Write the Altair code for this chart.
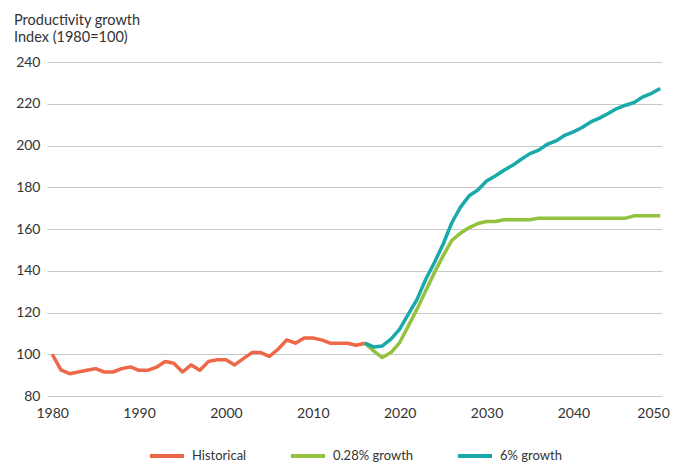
import altair as alt
import pandas as pd

hist_years = list(range(1980, 2017))
hist_values = [100.0, 92.5, 90.7, 91.5, 92.3, 93.1, 91.5, 91.5, 93.1, 93.9,
               92.3, 92.3, 93.8, 96.5, 95.7, 91.5, 94.9, 92.3, 96.6, 97.4,
               97.4, 94.9, 97.9, 100.8, 100.8, 99.0, 102.4, 106.9, 105.3, 107.8,
               107.8, 106.9, 105.3, 105.3, 105.3, 104.3, 105.3]

proj_years = list(range(2016, 2051))
low_values = [105.3, 101.6, 98.4, 100.8, 105.6, 113.6, 121.6, 130.4, 139.1, 147.1,
              154.5, 158.0, 160.7, 162.6, 163.6, 163.6, 164.4, 164.4, 164.4, 164.4,
              165.2, 165.2, 165.2, 165.2, 165.2, 165.2, 165.2, 165.2, 165.2, 165.2,
              165.2, 166.3, 166.3, 166.3, 166.3]
high_values = [105.3, 103.5, 104.0, 107.2, 112.0, 119.2, 126.3, 135.9, 143.9, 152.7,
               163.0, 170.5, 175.9, 178.7, 183.0, 185.4, 188.1, 190.5, 193.4, 196.1,
               197.8, 200.6, 202.2, 204.9, 206.5, 208.6, 211.3, 213.1, 215.3, 217.7,
               219.3, 220.6, 223.3, 225.0, 227.3]

series_names = ["Historical", "0.28% growth", "6% growth"]
series_colors = ["#EE6848", "#92C23E", "#18AAAA"]
x_ticks = [1980, 1990, 2000, 2010, 2020, 2030, 2040, 2050]
y_ticks = [80, 100, 120, 140, 160, 180, 200, 220, 240]

rows = []
for y, v in zip(hist_years, hist_values):
    rows.append({"year": y, "value": v, "series": series_names[0], "order": 2})
for y, v in zip(proj_years, low_values):
    rows.append({"year": y, "value": v, "series": series_names[1], "order": 0})
for y, v in zip(proj_years, high_values):
    rows.append({"year": y, "value": v, "series": series_names[2], "order": 1})
df = pd.DataFrame(rows)

FONT = "Lato"

chart = alt.Chart(df).mark_line(strokeWidth=3.5, strokeJoin="round").encode(
    x=alt.X("year:Q",
            scale=alt.Scale(domain=[1979.4, 2050.2], nice=False, zero=False),
            axis=alt.Axis(values=x_ticks, format="d", title=None, grid=False,
                          domain=False, ticks=False, labelPadding=10,
                          labelFlush=3, labelFlushOffset=9,
                          labelFontSize=14, labelColor="#333333", labelFont=FONT)),
    y=alt.Y("value:Q",
            scale=alt.Scale(domain=[80, 240], nice=False, zero=False),
            axis=alt.Axis(values=y_ticks, title=None, grid=True, gridColor="#C8C8C8",
                          gridWidth=1, domain=False, ticks=False, labelPadding=7,
                          labelFontSize=14, labelColor="#333333", labelFont=FONT)),
    color=alt.Color("series:N",
                    scale=alt.Scale(domain=series_names, range=series_colors),
                    legend=alt.Legend(title=None, orient="none", direction="horizontal",
                                      legendX=101, legendY=375, symbolType="stroke",
                                      symbolSize=1156, symbolStrokeWidth=4,
                                      labelFontSize=13, labelColor="#333333",
                                      labelFont=FONT, labelOffset=6,
                                      columnPadding=36, padding=0)),
    order=alt.Order("order:Q"),
    detail="series:N",
).properties(
    width=615,
    height=334,
    padding={"left": 39, "top": 54, "right": 10, "bottom": 80},
    autosize=alt.AutoSizeParams(type="none"),
    title=alt.TitleParams(text=["Productivity growth", "Index (1980=100)"],
                          anchor="start", frame="group", dx=-33, offset=10,
                          fontSize=14.5, fontWeight="normal", font=FONT,
                          color="#333333", lineHeight=17),
).configure_view(stroke=None)

chart.save("out.html", embed_options={"renderer": "svg", "actions": False})
